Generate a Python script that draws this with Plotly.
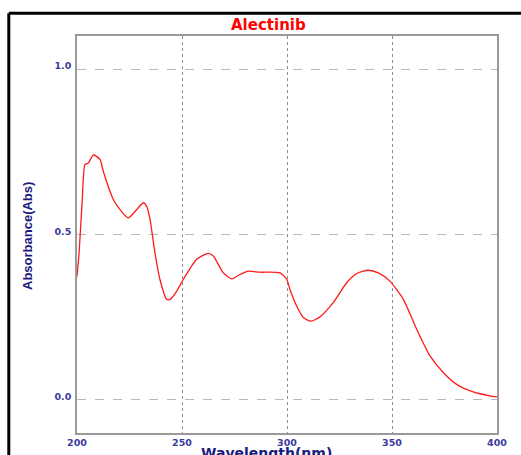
import plotly.graph_objects as go

wavelength = [200, 201, 202.5, 203.8, 205.4, 207.8, 211, 212.5, 217.3, 220.5,
              224.4, 228.4, 231.6, 233.2, 234.8, 237.1, 239.5, 242.7, 244.3, 247.5,
              250.6, 257, 262.5, 264.9, 269.7, 273.7, 277.6, 281.6, 287.1, 296.7,
              299.9, 301.4, 304.6, 307.8, 311.4, 315.7, 322, 328.4, 333.2, 338.7,
              343.5, 349, 355.4, 361.8, 368.1, 374.4, 380.8, 388.7, 396.7, 400]
absorbance = [0.373, 0.445, 0.605, 0.711, 0.716, 0.741, 0.726, 0.691, 0.606, 0.575,
              0.550, 0.575, 0.596, 0.585, 0.545, 0.445, 0.364, 0.304, 0.304, 0.329,
              0.364, 0.425, 0.443, 0.435, 0.384, 0.366, 0.379, 0.389, 0.386, 0.384,
              0.364, 0.334, 0.284, 0.249, 0.238, 0.251, 0.294, 0.354, 0.382, 0.392,
              0.384, 0.359, 0.304, 0.213, 0.133, 0.083, 0.047, 0.024, 0.012, 0.009]

x_ticks = [200, 250, 300, 350, 400]
x_tick_labels = ["200", "250", "300", "350", "400"]
y_ticks = [0.0, 0.5, 1.0]
y_tick_labels = ["0.0", "0.5", "1.0"]

title_text = "Alectinib"
x_title = "Wavelength(nm)"
y_title = "Absorbance(Abs)"

W, H = 521, 455
L, R, T, B = 77, 24, 36, 22
pw, ph = W - L - R, H - T - B

def px_x(p):
    return (p - L) / pw

def px_y(p):
    return (H - B - p) / ph

fig = go.Figure()
fig.add_trace(go.Scatter(
    x=wavelength, y=absorbance, mode="lines",
    line=dict(color="#ff1a1a", width=1.3, shape="spline", smoothing=0.6),
    hoverinfo="skip", showlegend=False))

tick_font = dict(family="DejaVu Sans", size=9.5, color="#3a3a9e", weight="bold")

fig.update_layout(
    width=W, height=H,
    margin=dict(l=L, r=R, t=T, b=B, autoexpand=False),
    paper_bgcolor="white", plot_bgcolor="white",
    xaxis=dict(range=[200, 400], tickvals=x_ticks, ticktext=x_tick_labels,
               showgrid=True, gridcolor="#8c8c8c", griddash="dot", gridwidth=1,
               zeroline=False, showline=True, linecolor="#9a9a9a", linewidth=1.5,
               mirror=True, ticks="", tickfont=tick_font),
    yaxis=dict(range=[-0.1, 1.1], tickvals=y_ticks, ticktext=y_tick_labels,
               showgrid=True, gridcolor="#b8b8b8", griddash="dash", gridwidth=1,
               zeroline=False, showline=True, linecolor="#9a9a9a", linewidth=1.5,
               mirror=True, ticks="", tickfont=tick_font, ticklabelstandoff=2,
               ticklabelshift=-3),
)

fig.add_annotation(text=title_text, xref="paper", yref="paper",
                   x=px_x(268), y=px_y(25), xanchor="center", yanchor="middle",
                   showarrow=False,
                   font=dict(family="DejaVu Sans", size=15, color="#ff0000", weight="bold"))
fig.add_annotation(text=x_title, xref="paper", yref="paper",
                   x=px_x(266), y=px_y(453), xanchor="center", yanchor="middle",
                   showarrow=False,
                   font=dict(family="DejaVu Sans", size=14, color="#1c1c80", weight="bold"))
fig.add_annotation(text=y_title, xref="paper", yref="paper",
                   x=px_x(27), y=px_y(236), xanchor="center", yanchor="middle",
                   textangle=-90, showarrow=False,
                   font=dict(family="Liberation Sans Narrow, Liberation Sans", size=13,
                             color="#1c1c80", weight="bold"))

# outer black frame (left and top edges visible)
fig.add_shape(type="line", xref="paper", yref="paper",
              x0=px_x(8.8), x1=px_x(8.8), y0=px_y(470), y1=px_y(13.3),
              line=dict(color="black", width=3))
fig.add_shape(type="line", xref="paper", yref="paper",
              x0=px_x(8.8), x1=px_x(540), y0=px_y(13.3), y1=px_y(13.3),
              line=dict(color="black", width=3))

fig.write_html("out.html")
